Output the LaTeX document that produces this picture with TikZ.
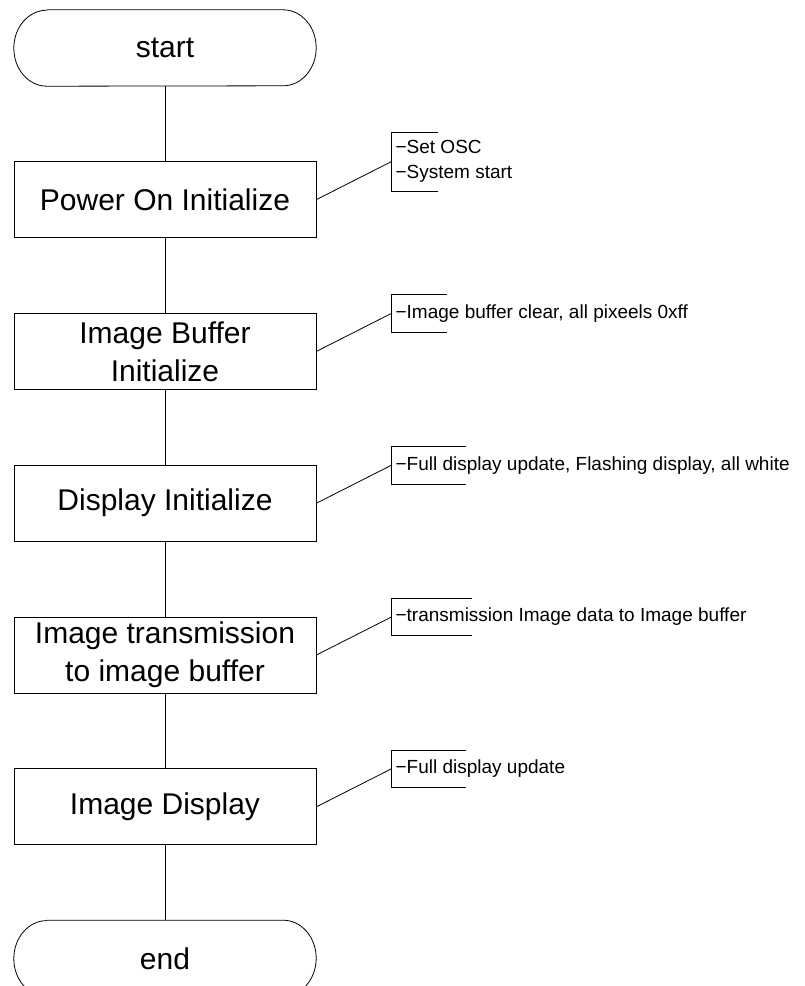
\documentclass[tikz,border=0pt]{standalone}
\usepackage{fontspec}
\setmainfont{Liberation Sans}
\usepackage{tikz}
\usetikzlibrary{positioning,calc}
\newcommand{\termoutline}[1]{%
  \draw[flowline] ([xshift=33pt]#1.north west) -- ([xshift=-33pt]#1.north east)
    arc[start angle=90,end angle=-90,x radius=33pt,y radius=38pt]
    -- ([xshift=33pt]#1.south west)
    arc[start angle=270,end angle=90,x radius=33pt,y radius=38pt];}
\newcommand{\notebracket}[2]{%
  \draw[flowline] ([xshift=#2]#1.north west) -- (#1.north west) -- (#1.south west) -- ([xshift=#2]#1.south west);}

\begin{document}
\begin{tikzpicture}[x=1pt,y=1pt,node distance=75pt and 75pt,
  flowline/.style={draw=black,line width=0.8pt},
  term/.style={minimum width=302pt,minimum height=76pt,font=\fontsize{30}{36}\selectfont},
  procbox/.style={draw=black,line width=0.8pt,minimum width=302pt,minimum height=76pt,align=center,font=\fontsize{30}{38}\selectfont},
  note/.style={anchor=west,align=left,inner xsep=4pt,inner ysep=0pt,minimum height=37pt,font=\fontsize{19}{25}\selectfont}]
\useasboundingbox (0,0) rectangle (805,-986);
% main flow
\node[term] (start) at (165,-48) {start};
\node[procbox,below=of start] (pwr) {Power On Initialize};
\node[procbox,below=of pwr] (buf) {Image Buffer\\Initialize};
\node[procbox,below=of buf] (disp) {Display Initialize};
\node[procbox,below=of disp] (xfer) {Image transmission\\to image buffer};
\node[procbox,below=of xfer] (show) {Image Display};
\node[term,below=of show] (end) {end};
\termoutline{start}
\termoutline{end}
\draw[flowline] (start) -- (pwr);
\draw[flowline] (pwr) -- (buf);
\draw[flowline] (buf) -- (disp);
\draw[flowline] (disp) -- (xfer);
\draw[flowline] (xfer) -- (show);
\draw[flowline] (show) -- (end);
% notes
\node[note,right=75pt of pwr.east,yshift=38pt,minimum height=59pt] (pwrnote) {−Set OSC\\−System start};
\node[note,right=75pt of buf.east,yshift=38pt] (bufnote) {−Image buffer clear, all pixeels 0xff};
\node[note,right=75pt of disp.east,yshift=38pt] (dispnote) {−Full display update, Flashing display, all white};
\node[note,right=75pt of xfer.east,yshift=38pt] (xfernote) {−transmission Image data to Image buffer};
\node[note,right=75pt of show.east,yshift=38pt] (shownote) {−Full display update};
\notebracket{pwrnote}{47pt}
\notebracket{bufnote}{56pt}
\notebracket{dispnote}{75pt}
\notebracket{xfernote}{81pt}
\notebracket{shownote}{75pt}
\draw[flowline] (pwr.east) -- (pwrnote.west);
\draw[flowline] (buf.east) -- (bufnote.west);
\draw[flowline] (disp.east) -- (dispnote.west);
\draw[flowline] (xfer.east) -- (xfernote.west);
\draw[flowline] (show.east) -- (shownote.west);
\end{tikzpicture}
\end{document}
